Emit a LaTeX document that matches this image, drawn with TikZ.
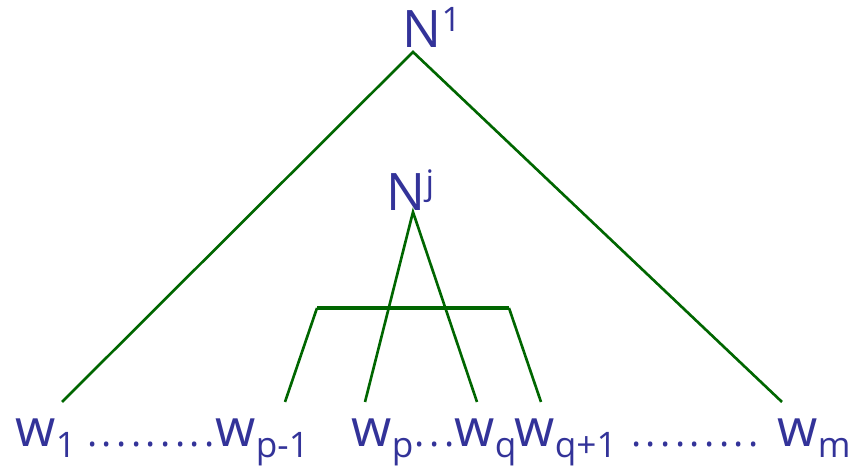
\documentclass[tikz,border=0pt]{standalone}
\usepackage{fontspec}
\setmainfont{Open Sans}
\usetikzlibrary{positioning}
\definecolor{LabelColor}{RGB}{51,51,153}
\definecolor{TreeColor}{RGB}{0,102,0}
\newcommand{\lsub}[1]{\raisebox{-3.1pt}{\fontsize{10}{11}\selectfont #1}}
\newcommand{\lsup}[1]{\raisebox{4.6pt}{\fontsize{9.6}{10}\selectfont #1}}
\newcommand{\dt}{.\kern1.25pt}
\tikzset{lbl/.style={text=LabelColor, inner sep=0pt, anchor=base west,
		font=\fontsize{14.7}{17}\selectfont},
	dotrow/.style={lbl, font=\fontsize{11}{12}\selectfont},
	edge/.style={draw=TreeColor, line width=0.75pt},
	bar/.style={draw=TreeColor, line width=1.1pt}}

\begin{document}
\begin{tikzpicture}[x=0.01cm,y=-0.01cm]
	\useasboundingbox (0,0) rectangle (848,468);
	% nonterminals
	\node[lbl] (N1) at (402,48) {N\lsup{1}};
	\node[lbl] (Nj) at (386,211) {N\lsup{j}};
	% words
	\node[lbl] (w1) at (15,447) {w\lsub{1}};
	\node[dotrow] (dotsa) at (86.5,447) {\dt\dt\dt\dt\dt\dt\dt\dt.};
	\node[lbl] (wp1) at (215,447) {w\lsub{p-1}};
	\node[lbl] (wp) at (351,447) {w\lsub{p}};
	\node[dotrow] (dotsc) at (414,447) {\dt\dt.};
	\node[lbl] (wq) at (454,447) {w\lsub{q}};
	\node[lbl] (wq1) at (514,447) {w\lsub{q+1}};
	\node[dotrow] (dotsb) at (630.5,447) {\dt\dt\dt\dt\dt\dt\dt\dt.};
	\node[lbl] (wm) at (777,447) {w\lsub{m}};
	% line ends
	\coordinate (top1) at (413,52);
	\coordinate (topj) at (413,212);
	\coordinate (e1) at (62,402);
	\coordinate (em) at (782,402);
	\coordinate (ep) at (365,402);
	\coordinate (eq) at (477,402);
	\coordinate (barl) at (317,308);
	\coordinate (barr) at (509,308);
	\coordinate (ep1) at (285,402);
	\coordinate (eq1) at (541,402);
	% tree
	\draw[edge] (e1) -- (top1) -- (em);
	\draw[edge] (ep) -- (topj) -- (eq);
	\draw[edge] (ep1) -- (barl);
	\draw[edge] (barr) -- (eq1);
	\draw[bar] (barl) -- (barr);
\end{tikzpicture}
\end{document}
